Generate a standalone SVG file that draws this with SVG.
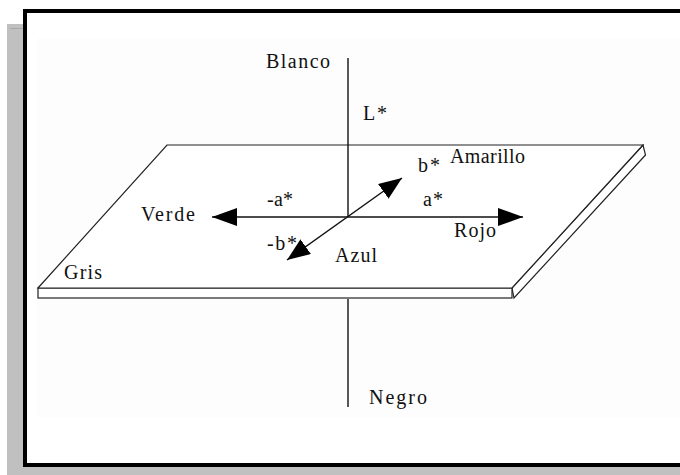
<svg xmlns="http://www.w3.org/2000/svg" width="680" height="475" viewBox="0 0 680 475">
  <style>
    .lbl { font-family: "Liberation Serif", "Times New Roman", serif; font-size: 20px; fill: #111; }
    .axis { stroke: #111; stroke-width: 1.4; fill: none; }
    .edge { stroke: #222; stroke-width: 1.2; fill: #fff; stroke-linejoin: miter; }
  </style>
  <defs>
    <marker id="headA" markerUnits="userSpaceOnUse" markerWidth="28" markerHeight="20" refX="25" refY="9" orient="auto-start-reverse" viewBox="0 0 28 20">
      <path d="M0,0 L25,9 L0,18 z" fill="#000"/>
    </marker>
    <marker id="headB" markerUnits="userSpaceOnUse" markerWidth="26" markerHeight="20" refX="23" refY="9" orient="auto-start-reverse" viewBox="0 0 26 20">
      <path d="M0,0 L23,9 L0,18 z" fill="#000"/>
    </marker>
  </defs>

  <!-- frame and shadow -->
  <g id="frame">
    <rect x="0" y="0" width="680" height="475" fill="#fff"/>
    <rect x="7" y="24" width="18" height="451" fill="#c0c0c0"/>
    <rect x="7" y="463" width="673" height="12" fill="#c0c0c0"/>
    <line x1="10" y1="28.5" x2="23" y2="28.5" stroke="#a8a8a8" stroke-width="1"/>
    <rect x="25" y="11" width="662" height="454" fill="#fff" stroke="#000" stroke-width="4"/>
    <rect x="37" y="38" width="643" height="379" fill="#fdfdfd"/>
  </g>

  <!-- plane (slab) -->
  <g id="plane">
    <polygon class="edge" points="512,288 643,145 645.5,155 514,298"/>
    <rect class="edge" x="38" y="288" width="474" height="10"/>
    <polygon class="edge" points="167,145 643,145 512,288 38,288"/>
  </g>

  <!-- connectors -->
  <g id="connectors">
    <line class="axis" x1="348" y1="58" x2="348" y2="217"/>
    <line class="axis" x1="348" y1="299" x2="348" y2="407"/>
    <line class="axis" x1="212" y1="217" x2="523" y2="217" marker-start="url(#headA)" marker-end="url(#headA)"/>
    <line class="axis" stroke-width="1.1" x1="287" y1="260" x2="402" y2="178" marker-start="url(#headB)" marker-end="url(#headB)"/>
  </g>

  <g id="blanco"><text class="lbl" x="266" y="68" textLength="64" lengthAdjust="spacing">Blanco</text></g>
  <g id="lstar"><text class="lbl" x="363" y="120" textLength="24" lengthAdjust="spacing">L*</text></g>
  <g id="amarillo"><text class="lbl" x="450" y="163" textLength="75" lengthAdjust="spacing">Amarillo</text></g>
  <g id="bstar"><text class="lbl" x="418" y="172" textLength="22" lengthAdjust="spacing">b*</text></g>
  <g id="minus-astar"><text class="lbl" x="267" y="206" textLength="26" lengthAdjust="spacing">-a*</text></g>
  <g id="astar"><text class="lbl" x="423" y="206" textLength="20" lengthAdjust="spacing">a*</text></g>
  <g id="verde"><text class="lbl" x="141" y="221" textLength="54" lengthAdjust="spacing">Verde</text></g>
  <g id="rojo"><text class="lbl" x="454" y="237" textLength="42" lengthAdjust="spacing">Rojo</text></g>
  <g id="minus-bstar"><text class="lbl" x="267" y="250" textLength="30" lengthAdjust="spacing">-b*</text></g>
  <g id="azul"><text class="lbl" x="335" y="262" textLength="42" lengthAdjust="spacing">Azul</text></g>
  <g id="gris"><text class="lbl" x="64" y="279" textLength="38" lengthAdjust="spacing">Gris</text></g>
  <g id="negro"><text class="lbl" x="369" y="404" textLength="58" lengthAdjust="spacing">Negro</text></g>
</svg>
